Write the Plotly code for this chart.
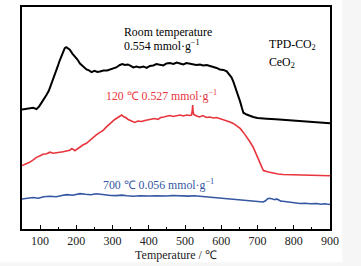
import plotly.graph_objects as go

# Black: room temperature
t_black = [50, 65, 81, 90, 97, 104, 110, 117, 124, 131, 136, 141, 148, 154, 160, 165, 168, 172, 177, 182, 189, 196, 203, 210, 219, 228, 235, 242, 250, 258, 265, 275, 285, 292, 300, 310, 320, 327, 334, 342, 350, 357, 366, 375, 385, 394, 403, 412, 421, 430, 440, 449, 458, 468, 477, 486, 495, 504, 513, 522, 531, 541, 550, 560, 570, 579, 587, 596, 606, 615, 622, 628, 633, 638, 642, 647, 652, 657, 661, 670, 680, 688, 700, 712, 725, 750, 775, 800, 817, 840, 860, 880, 900]
s_black = [120.5, 121.5, 122.3, 121.0, 123.5, 127.5, 130.5, 135.0, 139.5, 146.0, 150.5, 157.0, 163.5, 170.0, 175.0, 179.0, 182.5, 183.5, 182.5, 181.0, 177.0, 174.5, 171.0, 167.0, 163.5, 161.0, 160.0, 158.3, 159.5, 158.5, 159.0, 160.0, 160.0, 161.0, 162.0, 163.0, 165.5, 166.5, 165.5, 166.0, 164.5, 163.0, 164.0, 163.0, 164.0, 162.5, 164.5, 165.0, 166.5, 166.0, 165.0, 167.0, 167.5, 166.5, 168.0, 167.0, 166.0, 167.5, 167.0, 166.0, 165.5, 166.0, 165.0, 165.5, 164.5, 163.5, 162.5, 161.0, 160.5, 159.0, 156.0, 153.0, 149.0, 144.0, 140.0, 134.0, 128.5, 122.0, 117.3, 115.5, 114.0, 113.0, 112.0, 111.5, 111.3, 110.8, 110.2, 109.6, 109.2, 108.5, 107.8, 107.2, 106.7]

# Red: 120 C
t_red = [50, 60, 71, 80, 90, 100, 108, 118, 127, 136, 145, 154, 163, 173, 182, 187, 191, 196, 201, 210, 219, 228, 237, 246, 255, 265, 274, 283, 292, 300, 306, 313, 320, 325, 330, 336, 343, 352, 361, 370, 380, 389, 398, 407, 416, 425, 433, 441, 449, 458, 467, 477, 486, 495, 505, 512, 518, 520, 521, 522, 524, 532, 540, 549, 559, 568, 578, 587, 596, 605, 615, 624, 633, 642, 652, 661, 670, 679, 688, 695, 702, 709, 716, 730, 743, 757, 770, 790, 817, 850, 880, 900]
s_red = [64.0, 65.5, 67.3, 69.5, 72.3, 74.0, 75.5, 76.0, 77.5, 76.5, 77.3, 77.5, 78.0, 79.0, 79.5, 81.0, 80.5, 79.0, 80.5, 83.0, 85.0, 86.5, 89.5, 92.3, 95.0, 97.5, 99.5, 103.0, 105.5, 108.5, 110.5, 112.0, 114.0, 115.0, 113.5, 112.5, 110.5, 109.0, 107.5, 109.0, 108.5, 109.5, 110.0, 111.0, 111.5, 110.5, 112.5, 113.0, 113.5, 114.5, 113.5, 114.5, 115.0, 114.0, 115.0, 114.5, 115.0, 120.0, 125.0, 119.0, 115.5, 114.0, 113.0, 114.5, 112.5, 113.0, 112.0, 112.5, 111.5, 110.0, 109.0, 108.0, 106.5, 104.0, 101.5, 97.5, 93.0, 88.0, 82.5, 76.5, 70.0, 64.0, 59.0, 57.5, 56.3, 55.5, 55.0, 54.8, 54.3, 54.0, 53.8, 53.7]

# Blue: 700 C
t_blue = [50, 65, 81, 95, 110, 127, 145, 160, 173, 190, 200, 210, 225, 240, 255, 265, 280, 295, 311, 325, 340, 357, 375, 390, 403, 420, 435, 449, 465, 480, 495, 510, 525, 541, 560, 575, 587, 605, 620, 633, 650, 665, 679, 695, 705, 716, 722, 728, 734, 742, 748, 753, 760, 765, 770, 780, 789, 800, 817, 830, 845, 863, 875, 885, 900]
s_blue = [30.3, 31.0, 31.7, 31.0, 32.5, 33.0, 32.5, 33.8, 34.7, 34.0, 35.0, 35.7, 35.0, 34.5, 35.5, 35.0, 34.5, 33.8, 33.7, 34.2, 33.5, 33.0, 33.5, 33.2, 33.3, 33.5, 33.0, 33.3, 33.8, 33.5, 33.7, 33.2, 33.5, 33.0, 32.5, 32.0, 31.7, 31.0, 30.5, 30.0, 29.5, 29.0, 28.3, 28.0, 27.5, 27.3, 28.5, 30.5, 31.0, 30.5, 29.5, 30.3, 29.0, 28.0, 28.0, 27.5, 26.7, 26.5, 25.7, 26.0, 25.5, 25.7, 25.0, 25.5, 24.7]

x_ticks = [100, 200, 300, 400, 500, 600, 700, 800, 900]

fig = go.Figure()
fig.add_trace(go.Scatter(x=t_black, y=s_black, mode="lines",
                         line=dict(color="#000000", width=2), showlegend=False))
fig.add_trace(go.Scatter(x=t_red, y=s_red, mode="lines",
                         line=dict(color="#e8343c", width=1.6), showlegend=False))
fig.add_trace(go.Scatter(x=t_blue, y=s_blue, mode="lines",
                         line=dict(color="#3556a3", width=1.6), showlegend=False))

font = "Liberation Serif, Times New Roman, serif"
ann = [
    dict(x=326, y=199, text="Room temperature", color="#000000"),
    dict(x=326, y=185, text="0.554 mmol·g<sup>−1</sup>", color="#000000"),
    dict(x=726, y=186, text="TPD-CO<sub>2</sub>", color="#000000"),
    dict(x=726, y=168, text="CeO<sub>2</sub>", color="#000000"),
    dict(x=276, y=135, text="120 ℃ 0.527 mmol·g<sup>−1</sup>", color="#e8343c"),
    dict(x=268, y=45, text="700 ℃ 0.056 mmol·g<sup>−1</sup>", color="#3556a3"),
]
for a in ann:
    fig.add_annotation(x=a["x"], y=a["y"], text=a["text"], showarrow=False,
                       xanchor="left", yanchor="middle",
                       font=dict(family=font, size=11.8, color=a["color"]))

fig.update_layout(
    width=361, height=266,
    margin=dict(l=22, r=31, t=5, b=37),
    paper_bgcolor="#f6f6f6", plot_bgcolor="#ffffff",
    font=dict(family=font, size=12, color="#222222"),
    shapes=[dict(type="rect", xref="paper", yref="paper", x0=-0.08, x1=1.04,
                 y0=-0.15, y1=1.05, fillcolor="#ffffff", line_width=0, layer="below")],
)
fig.update_xaxes(range=[50, 900], tickvals=x_ticks, ticks="inside", ticklen=4,
                 tickwidth=1, tickcolor="#000", showline=True, linecolor="#000",
                 linewidth=1.5, mirror=True, showgrid=False, zeroline=False,
                 minor=dict(dtick=50, tick0=50, ticks="inside", ticklen=2, tickcolor="#000"),
                 title=dict(text="Temperature / ℃", font=dict(size=12), standoff=2),
                 tickfont=dict(size=12))
fig.update_yaxes(range=[0, 224], showticklabels=False, ticks="", showline=True,
                 linecolor="#000", linewidth=1.5, mirror=True, showgrid=False,
                 zeroline=False)

fig.write_html("out.html", config={"displayModeBar": False},
               post_script="document.body.style.margin='0px';")
